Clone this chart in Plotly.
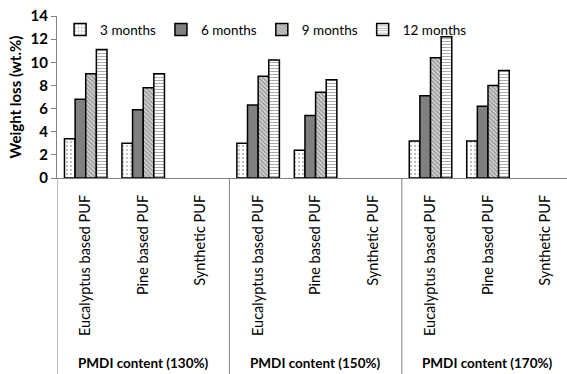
import plotly.graph_objects as go

materials = ["Eucalyptus based PUF", "Pine based PUF", "Synthetic PUF"]
groups = ["PMDI content (130%)", "PMDI content (150%)", "PMDI content (170%)"]
series_names = ["3 months", "6 months", "9 months", "12 months"]

m3 = [3.4, 3.0, None, 3.0, 2.4, None, 3.2, 3.2, None]
m6 = [6.8, 5.9, None, 6.3, 5.4, None, 7.1, 6.2, None]
m9 = [9.0, 7.8, None, 8.8, 7.4, None, 10.4, 8.0, None]
m12 = [11.1, 9.0, None, 10.2, 8.5, None, 12.2, 9.3, None]

y_ticks = [0, 2, 4, 6, 8, 10, 12, 14]

cat_labels = [m for g in groups for m in materials]
xpos = list(range(len(cat_labels)))

FONT = "Lato"
styles = [
    dict(color="white", pattern=dict(shape=".", fgcolor="#7a7a7a", bgcolor="white", size=4, solidity=0.25)),
    dict(color="#808080"),
    dict(color="white", pattern=dict(shape="\\", fgcolor="#555555", bgcolor="#d8d8d8", size=3, solidity=0.5)),
    dict(color="white", pattern=dict(shape="-", fgcolor="#555555", bgcolor="white", size=3, solidity=0.35)),
]

fig = go.Figure()
for name, vals, st in zip(series_names, [m3, m6, m9, m12], styles):
    marker = dict(line=dict(color="black", width=1.5), **st)
    fig.add_trace(go.Bar(name=name, x=xpos, y=vals, marker=marker))

shapes = []
for b in [-0.5, 2.5, 5.5]:
    shapes.append(dict(type="line", xref="x", yref="paper", x0=b, x1=b, y0=0, y1=-1.3,
                       line=dict(color="#808080", width=1)))

annotations = []
for i, g in enumerate(groups):
    annotations.append(dict(text=g, xref="x", yref="paper", x=i * 3 + 1, y=-1.145,
                            showarrow=False, xanchor="center", yanchor="middle",
                            font=dict(family=FONT, size=13.5, color="black", weight="bold")))

fig.update_layout(
    width=567, height=374,
    margin=dict(l=57, r=0, t=16, b=196.4),
    paper_bgcolor="white", plot_bgcolor="white",
    barmode="group", bargap=0.26, bargroupgap=0,
    font=dict(family=FONT, size=14, color="black"),
    showlegend=True,
    legend=dict(orientation="h", x=0.41, y=0.915, xanchor="center", yanchor="middle",
                font=dict(family=FONT, size=13.5, color="black"),
                bgcolor="rgba(0,0,0,0)", itemwidth=30, traceorder="normal"),
    shapes=shapes,
    annotations=annotations,
)
fig.update_xaxes(
    range=[-0.5, 8.375], tickmode="array", tickvals=xpos, ticktext=cat_labels,
    tickangle=-90, ticks="", showline=True, linecolor="#808080", linewidth=1,
    showgrid=False, zeroline=False, ticklabelstandoff=10, automargin=False,
    ticklabeloverflow="allow",
    tickfont=dict(family=FONT, size=14.5, color="black"),
)
fig.update_yaxes(
    range=[0, 14], tickmode="array", tickvals=y_ticks, ticks="outside", ticklen=5,
    tickcolor="#808080", showline=True, linecolor="#808080", linewidth=1,
    showgrid=False, zeroline=False, automargin=False, ticklabeloverflow="allow",
    tickfont=dict(family=FONT, size=15, color="black", weight="bold"),
    title=dict(text="Weight loss (wt.%)", font=dict(family=FONT, size=15, color="black", weight="bold"), standoff=5),
)
fig.write_html("out.html", config={"displayModeBar": False},
               post_script="document.body.style.margin='0';")
